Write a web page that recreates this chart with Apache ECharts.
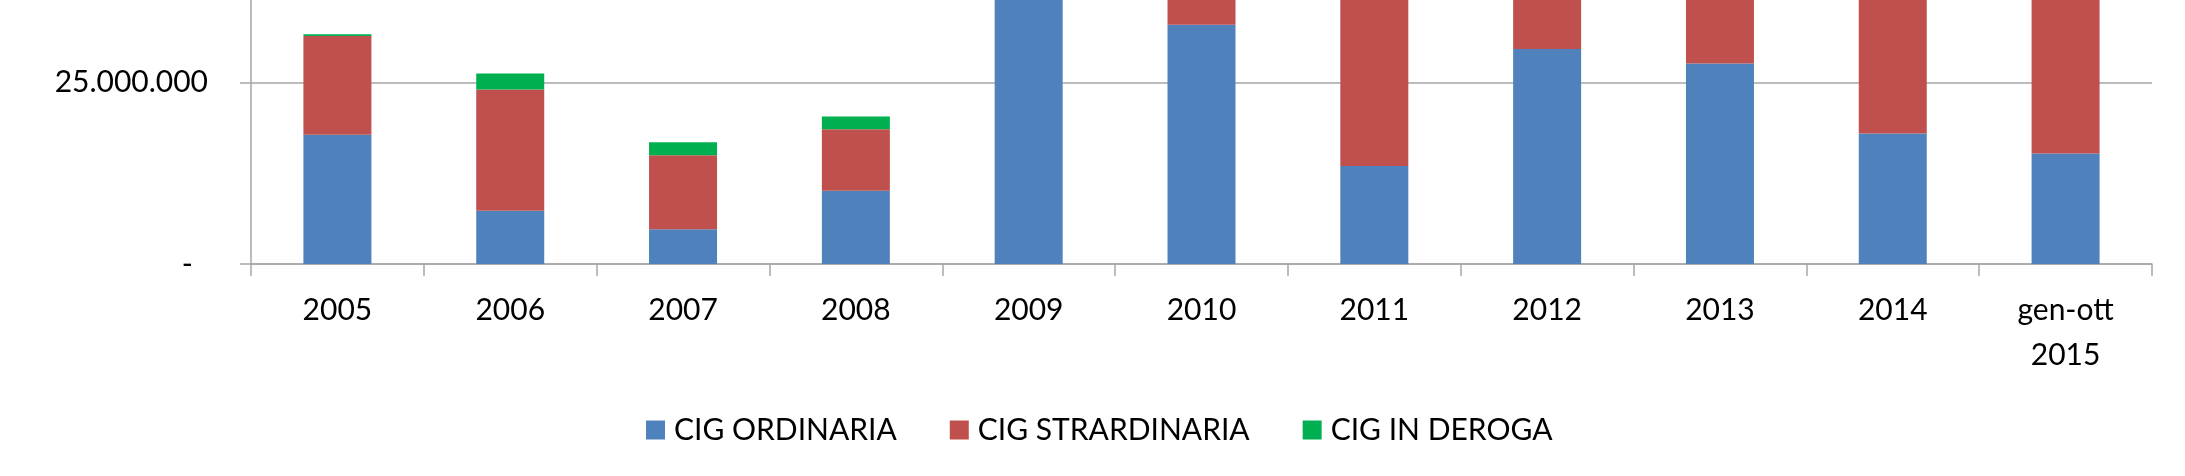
<!DOCTYPE html>
<html>
<head>
<meta charset="utf-8">
<script src="https://cdn.jsdelivr.net/npm/echarts@6/dist/echarts.min.js"></script>
<style>
  html, body { margin: 0; padding: 0; background: #fff; overflow: hidden; }
  #wrap { width: 2185px; height: 476px; overflow: hidden; position: relative; }
  #chart { width: 2185px; height: 757px; position: absolute; left: 0; top: -281px; }
</style>
</head>
<body>
<div id="wrap"><div id="chart"></div></div>
<script>
// Categories (x axis)
const categories = ['2005', '2006', '2007', '2008', '2009', '2010', '2011', '2012', '2013', '2014', 'gen-ott\n2015'];
// Series values (hours). Values above ~36 million are cut off in the reference image and are estimates.
const cigOrdinaria     = [17800000, 7330000, 4770000, 10090000, 45000000, 32930000, 13480000, 29580000, 27600000, 17970000, 15220000];
const cigStraordinaria = [13580000, 16700000, 10180000, 8440000, 9000000, 22000000, 30000000, 24000000, 30000000, 32000000, 28000000];
const cigInDeroga      = [230000, 2200000, 1790000, 1780000, 2000000, 12000000, 10000000, 10000000, 9000000, 6000000, 2000000];
const seriesNames = ['CIG ORDINARIA', 'CIG STRARDINARIA', 'CIG IN DEROGA'];
// y axis ticks
const yMin = 0, yMax = 75000000, yInterval = 25000000;

function fmtIt(v) {
  if (v === 0) return '{z|-}';
  return String(Math.round(v)).replace(/\B(?=(\d{3})+(?!\d))/g, '.');
}

const FONT = 'Lato';
const GRAY = '#a6a6a6';
const chart = echarts.init(document.getElementById('chart'), null, { renderer: 'canvas' });
chart.setOption({
  animation: false,
  backgroundColor: '#ffffff',
  textStyle: { fontFamily: FONT },
  grid: { left: 251, right: 33, top: 0, bottom: 212, containLabel: false, outerBoundsMode: 'none' },
  legend: {
    left: 641, top: 691,
    icon: 'rect', itemWidth: 19, itemHeight: 19, itemGap: 53,
    textStyle: { fontFamily: FONT, fontSize: 30, color: '#000', padding: [0, 0, 0, 4] },
    data: seriesNames
  },
  xAxis: {
    type: 'category',
    data: categories,
    boundaryGap: true,
    axisLine: { show: true, lineStyle: { color: GRAY, width: 1.5 } },
    axisTick: { show: true, length: 12, inside: false, lineStyle: { color: GRAY, width: 1.5 } },
    axisLabel: { fontFamily: FONT, fontSize: 30, color: '#000', margin: 24, lineHeight: 45, interval: 0 }
  },
  yAxis: {
    type: 'value',
    min: yMin, max: yMax, interval: yInterval,
    axisLine: { show: true, lineStyle: { color: GRAY, width: 1.5 } },
    axisTick: { show: true, length: 11, lineStyle: { color: GRAY, width: 1.5 } },
    splitLine: { show: true, lineStyle: { color: GRAY, width: 1.5 } },
    axisLabel: {
      fontFamily: FONT, fontSize: 30, color: '#000', margin: 43,
      formatter: fmtIt,
      rich: { z: { fontFamily: FONT, fontSize: 30, color: '#000', padding: [0, 15, 0, 0] } }
    }
  },
  series: [
    { name: seriesNames[0], type: 'bar', stack: 'cig', data: cigOrdinaria, barWidth: 68, itemStyle: { color: '#4f81bd' } },
    { name: seriesNames[1], type: 'bar', stack: 'cig', data: cigStraordinaria, barWidth: 68, itemStyle: { color: '#c0504d' } },
    { name: seriesNames[2], type: 'bar', stack: 'cig', data: cigInDeroga, barWidth: 68, itemStyle: { color: '#00b050' } }
  ]
});
</script>
</body>
</html>
